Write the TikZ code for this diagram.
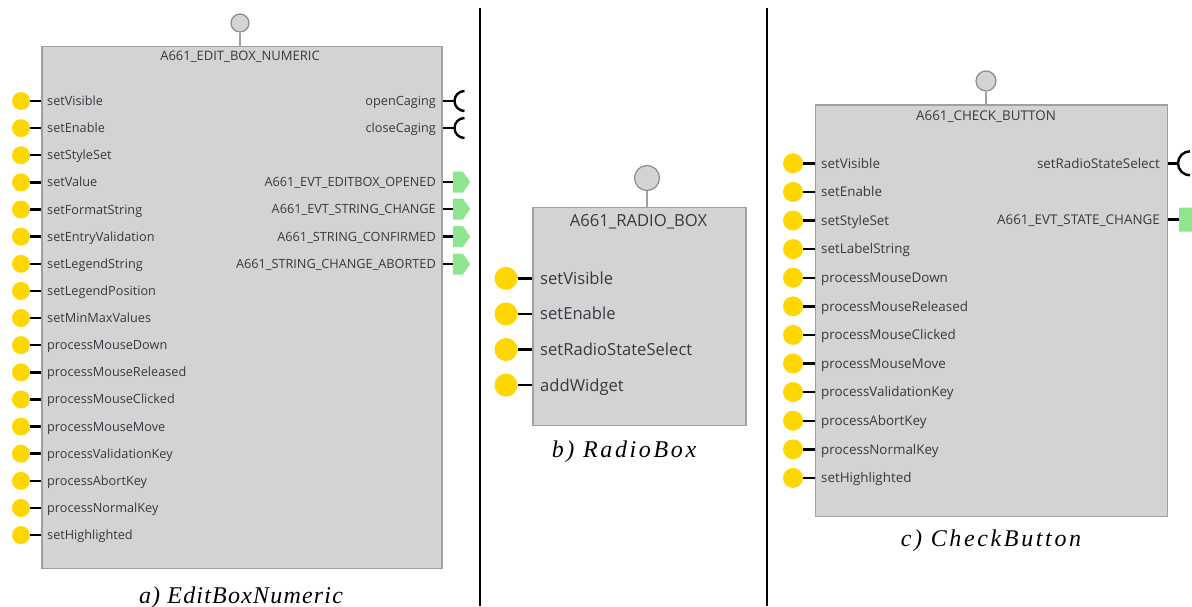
\documentclass[tikz,border=0pt]{standalone}
\usepackage{fontspec}
\newfontfamily\uifont{Open Sans}
\newfontfamily\capfont[LetterSpace=5]{Liberation Serif}
\newfontfamily\capfontw[LetterSpace=11]{Liberation Serif}
\usetikzlibrary{shapes.symbols}
\definecolor{boxfill}{HTML}{D3D3D3}
\definecolor{boxline}{HTML}{A0A0A0}
\definecolor{pinline}{HTML}{8C8C8C}
\definecolor{portyel}{HTML}{FFD700}
\definecolor{evtgreen}{HTML}{8FE68F}
\definecolor{txt}{HTML}{383842}
\tikzset{
  blk/.style={draw=boxline, fill=boxfill, line width=1.5, inner sep=0, anchor=north west},
  pinc/.style={circle, draw=pinline, fill=boxfill, line width=1.2, inner sep=0, minimum size=#1},
  stem/.style={draw=boxline, line width=1.5},
  port/.style={circle, fill=portyel, inner sep=0, minimum size=#1},
  wire/.style={line width=2.4, black},
  lbl/.style={text=txt, inner sep=0, font=\uifont\fontsize{12.7}{15}\selectfont},
  lblc/.style={text=txt, inner sep=0, font=\uifont\fontsize{13.4}{16}\selectfont},
  lblb/.style={text=txt, inner sep=0, font=\uifont\fontsize{16.6}{19}\selectfont},
  evt/.style={signal, signal to=east, signal pointer angle=110, fill=evtgreen, draw=none, inner sep=0, minimum width=17, minimum height=#1, anchor=west},
  caption/.style={inner sep=0, anchor=base, font=\capfont\itshape\fontsize{24}{28}\selectfont},
  captionw/.style={inner sep=0, anchor=base, font=\capfontw\itshape\fontsize{24}{28}\selectfont},
  divider/.style={line width=2, black}
}
\begin{document}
\begin{tikzpicture}[x=1pt,y=-1pt]
\useasboundingbox (0,0) rectangle (1192,606);
% dividers
\draw[divider] (480,8) -- (480,606);
\draw[divider] (767,8) -- (767,606);

% ---------------- panel a ----------------
\node[blk, minimum width=400, minimum height=522] (boxA) at (41,45.5) {};
\node[pinc=18] (pinA) at (240,23) {};
\draw[stem] (pinA.south) -- (pinA.south |- boxA.north);
\node[lbl, font=\uifont\fontsize{13}{15}\selectfont, anchor=base] (titleA) at (240,60.5) {A661\_EDIT\_BOX\_NUMERIC};
\foreach \t [count=\i] in {setVisible,setEnable,setStyleSet,setValue,setFormatString,setEntryValidation,setLegendString,setLegendPosition,setMinMaxValues,processMouseDown,processMouseReleased,processMouseClicked,processMouseMove,processValidationKey,processAbortKey,processNormalKey,setHighlighted}{
  \pgfmathsetmacro\yy{101+27.13*(\i-1)}
  \node[port=18] (pa\i) at (21,\yy) {};
  \draw[wire] (pa\i.east) -- (pa\i -| boxA.west);
  \node[lbl, anchor=base west] (la\i) at (47,\yy+4.5) {\t};
}
\foreach \t/\yy [count=\i] in {openCaging/101,closeCaging/128}{
  \node[lbl, anchor=base east] (lra\i) at (436,\yy+4.5) {\t};
  \coordinate (oca\i) at (455,\yy);
  \draw[wire] (oca\i -| boxA.east) -- (oca\i);
  \draw[wire] ([xshift=9.5pt,yshift=10pt]oca\i) arc[start angle=90,end angle=270,radius=10pt];
}
\foreach \t/\yy [count=\i] in {A661\_EVT\_EDITBOX\_OPENED/182,A661\_EVT\_STRING\_CHANGE/209,A661\_STRING\_CONFIRMED/236.5,A661\_STRING\_CHANGE\_ABORTED/264}{
  \node[lbl, anchor=base east] (lea\i) at (436,\yy+4.5) {\t};
  \node[evt=21] (eva\i) at (453,\yy) {};
  \draw[wire] (eva\i.west -| boxA.east) -- (eva\i.west);
}
\node[caption] (capA) at (241,603) {a) EditBoxNumeric};

% ---------------- panel b ----------------
\node[blk, minimum width=213, minimum height=218] (boxB) at (532.3,206.7) {};
\node[pinc=25] (pinB) at (647,178) {};
\draw[stem] (pinB.south) -- (pinB.south |- boxB.north);
\node[lblb, anchor=base] (titleB) at (638.5,226) {A661\_RADIO\_BOX};
\foreach \t [count=\i] in {setVisible,setEnable,setRadioStateSelect,addWidget}{
  \pgfmathsetmacro\yy{278.3+35.6*(\i-1)}
  \node[port=23] (pb\i) at (506,\yy) {};
  \draw[wire] (pb\i.east) -- (pb\i -| boxB.west);
  \node[lblb, anchor=base west] (lb\i) at (540,\yy+5.9) {\t};
}
\node[captionw] (capB) at (624,457) {b) RadioBox};

% ---------------- panel c ----------------
\node[blk, minimum width=352, minimum height=411.4] (boxC) at (814.5,104.3) {};
\node[pinc=20] (pinC) at (986,81) {};
\draw[stem] (pinC.south) -- (pinC.south |- boxC.north);
\node[lblc, anchor=base] (titleC) at (986,120) {A661\_CHECK\_BUTTON};
\foreach \t [count=\i] in {setVisible,setEnable,setStyleSet,setLabelString,processMouseDown,processMouseReleased,processMouseClicked,processMouseMove,processValidationKey,processAbortKey,processNormalKey,setHighlighted}{
  \pgfmathsetmacro\yy{163.3+28.6*(\i-1)}
  \node[port=20] (pc\i) at (793,\yy) {};
  \draw[wire] (pc\i.east) -- (pc\i -| boxC.west);
  \node[lblc, anchor=base west] (lc\i) at (821,\yy+4.8) {\t};
}
\node[lblc, anchor=base east] (lrc1) at (1160,168.1) {setRadioStateSelect};
\coordinate (occ1) at (1178,163.3);
\draw[wire] (occ1 -| boxC.east) -- (occ1);
\draw[wire] ([xshift=12pt,yshift=12pt]occ1) arc[start angle=90,end angle=270,radius=12pt];
\node[lblc, anchor=base east] (lec1) at (1160,224.8) {A661\_EVT\_STATE\_CHANGE};
\node[evt=24, minimum width=30] (evc1) at (1179,219.5) {};
\draw[wire] (evc1.west -| boxC.east) -- (evc1.west);
\node[captionw] (capC) at (991,546) {c) CheckButton};
\end{tikzpicture}
\end{document}
